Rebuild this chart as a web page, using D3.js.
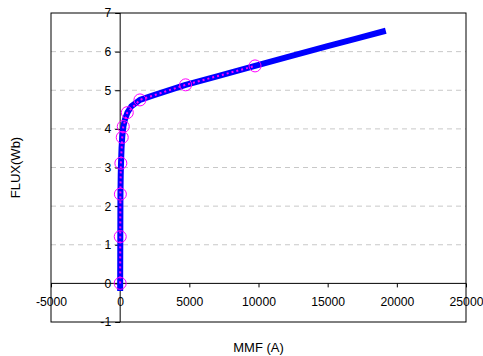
<!DOCTYPE html>
<html><head><meta charset="utf-8">
<script src="https://cdn.jsdelivr.net/npm/d3@7"></script>
<style>body{margin:0;background:#fff}svg{display:block}text{font-family:"Liberation Sans",Arial,sans-serif}</style>
</head><body>
<svg id="c" width="483" height="356"></svg>
<script>
const xTicks = [-5000, 0, 5000, 10000, 15000, 20000, 25000];
const yTicks = [-1, 0, 1, 2, 3, 4, 5, 6, 7];
const curveMMF  = [0, 0, 10, 20, 40, 60, 100, 150, 230, 350, 520, 800, 1430, 2500, 4730, 7000, 9750, 12000, 15000, 17000, 19200];
const curveFlux = [-0.2, 0, 1.2, 2.3, 2.8, 3.1, 3.5, 3.8, 4.06, 4.25, 4.42, 4.58, 4.75, 4.88, 5.14, 5.36, 5.63, 5.85, 6.14, 6.33, 6.54];
const measMMF  = [0, 5, 15, 50, 150, 225, 515, 1430, 4730, 9750];
const measFlux = [0, 1.21, 2.31, 3.11, 3.78, 4.06, 4.42, 4.75, 5.14, 5.63];

const L = 51, R = 466, T = 13, B = 322;
const svg = d3.select("#c");
const x = d3.scaleLinear().domain([-5000, 25000]).range([L, R]);
const y = d3.scaleLinear().domain([-1, 7]).range([B, T]);

// gridlines
svg.append("g").selectAll("line").data(yTicks.filter(v => v > 0 && v < 7)).join("line")
  .attr("x1", L).attr("x2", R).attr("y1", d => y(d)).attr("y2", d => y(d))
  .attr("stroke", "#c8c8c8").attr("stroke-width", 1).attr("stroke-dasharray", "5,4");

// frame
svg.append("rect").attr("x", L).attr("y", T).attr("width", R - L).attr("height", B - T)
  .attr("fill", "none").attr("stroke", "#000").attr("stroke-width", 1);

const fmt = d => String(d);
// x axis at y=0
const xa = svg.append("g").attr("transform", `translate(0,${y(0)})`)
  .call(d3.axisBottom(x).tickValues(xTicks).tickSize(4).tickPadding(10).tickFormat(fmt));
// y axis at x=0
const ya = svg.append("g").attr("transform", `translate(${x(0)},0)`)
  .call(d3.axisLeft(y).tickValues(yTicks).tickSize(5).tickPadding(4).tickFormat(fmt));
[xa, ya].forEach(g => {
  g.select(".domain").attr("stroke", "#000").attr("stroke-width", 1);
  g.selectAll(".tick line").attr("stroke", "#000");
  g.selectAll("text").attr("font-size", 12.2).attr("fill", "#000").attr("font-family", '"Liberation Sans",Arial,sans-serif');
});
xa.select(".domain").attr("d", `M${L},0H${R}`);
ya.select(".domain").attr("d", `M0,${T}V${B}`);

// data
const curve = curveMMF.map((v, i) => [v, curveFlux[i]]);
const meas = measMMF.map((v, i) => [v, measFlux[i]]);
const line2 = d3.line().x(d => x(d[0])).y(d => y(d[1]));
svg.append("path").attr("d", line2(curve)).attr("fill", "none")
  .attr("stroke", "#0000ff").attr("stroke-width", 6).attr("stroke-linejoin", "round");
svg.append("path").attr("d", line2(meas)).attr("fill", "none")
  .attr("stroke", "#ff00ff").attr("stroke-width", 2).attr("stroke-dasharray", "2,3");
svg.append("g").selectAll("circle").data(meas).join("circle")
  .attr("cx", d => x(d[0])).attr("cy", d => y(d[1])).attr("r", 6)
  .attr("fill", "none").attr("stroke", "#ff00ff").attr("stroke-width", 1);

// titles
svg.append("text").attr("x", (L + R) / 2).attr("y", 352).attr("text-anchor", "middle")
  .attr("font-size", 13).text("MMF (A)");
svg.append("text").attr("transform", `translate(20,${(T + B) / 2}) rotate(-90)`).attr("text-anchor", "middle")
  .attr("font-size", 13).text("FLUX(Wb)");
</script>
</body></html>
